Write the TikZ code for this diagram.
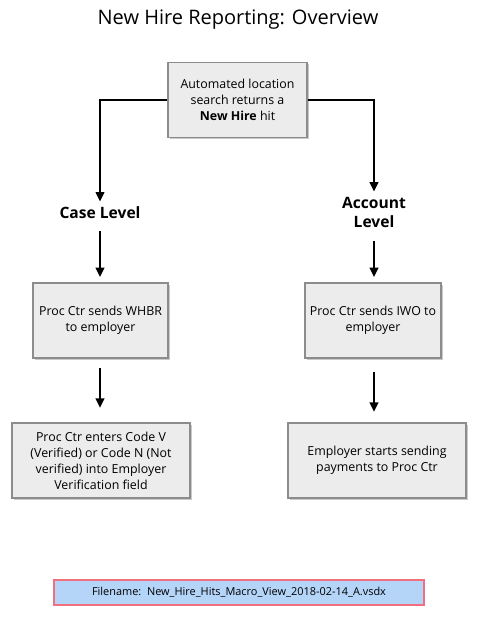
\documentclass[tikz,border=0pt]{standalone}
\usepackage{fontspec}
\setmainfont{Open Sans}
\usepackage{tikz}
\usetikzlibrary{positioning, arrows.meta, shadows}

\definecolor{boxfill}{HTML}{ECECEC}
\definecolor{boxline}{HTML}{8C8C8C}
\definecolor{namefill}{HTML}{B4D4F8}
\definecolor{nameline}{HTML}{F07080}

\def\px{0.75pt}

\begin{document}
\begin{tikzpicture}[x=0.75pt, y=-0.75pt,
    stepbox/.style={draw=boxline, fill=boxfill, line width=1pt,
        drop shadow={shadow xshift=1.2pt, shadow yshift=-1.2pt, opacity=0.35, fill=black!60},
        align=center, inner sep=2pt, font=\fontsize{9.3}{12}\selectfont,
        minimum height=75*\px},
    level/.style={align=center, inner sep=1pt, font=\fontsize{11.7}{14.5}\selectfont\bfseries},
    arrow/.style={line width=1.3pt, -{Triangle[width=6.5pt, length=7pt]}}]

    \useasboundingbox (0,0) rectangle (476,618);

    % title
    \node (title) at (238,20) {\fontsize{15}{18}\selectfont New Hire Reporting: Overview};

    % start
    \node[stepbox, minimum width=139*\px] (hit) at (237.5,100)
        {Automated location\\search returns a\\\textbf{New Hire} hit};

    % levels
    \node[level] (case) at (100,213) {Case Level};
    \node[level] (account) at (374,212.5) {Account\\Level};

    % case level steps
    \node[stepbox, minimum width=135*\px] (whbr) at (100.5,320.5)
        {Proc Ctr sends WHBR\\to employer};
    \node[stepbox, minimum width=178*\px] (code) at (101,460.5)
        {Proc Ctr enters Code V\\(Verified) or Code N (Not\\verified) into Employer\\Verification field};

    % account level steps
    \node[stepbox, minimum width=136*\px] (iwo) at (373,320.5)
        {Proc Ctr sends IWO to\\employer};
    \node[stepbox, minimum width=178*\px] (pay) at (377,460.5)
        {Employer starts sending\\payments to Proc Ctr};

    % file name
    \node[draw=nameline, fill=namefill, line width=1pt, minimum width=370*\px,
        minimum height=25*\px, font=\fontsize{8.2}{10}\selectfont] (file) at (239,592.5)
        {Filename:\ \ New\_Hire\_Hits\_Macro\_View\_2018-02-14\_A.vsdx};

    % connectors
    \draw[arrow, shorten >=3pt] (hit.west) -| (case.north);
    \draw[arrow, shorten >=3pt] (hit.east) -| (account.north);
    \draw[arrow, shorten <=8pt, shorten >=4pt] (case.south) -- (case.south |- whbr.north);
    \draw[arrow, shorten <=9pt, shorten >=4pt] (account.south) -- (account.south |- iwo.north);
    \draw[arrow, shorten <=7pt, shorten >=11pt] (whbr.south -| case.south) -- (case.south |- code.north);
    \draw[arrow, shorten <=10pt, shorten >=8pt] (iwo.south -| account.south) -- (account.south |- pay.north);
\end{tikzpicture}
\end{document}
